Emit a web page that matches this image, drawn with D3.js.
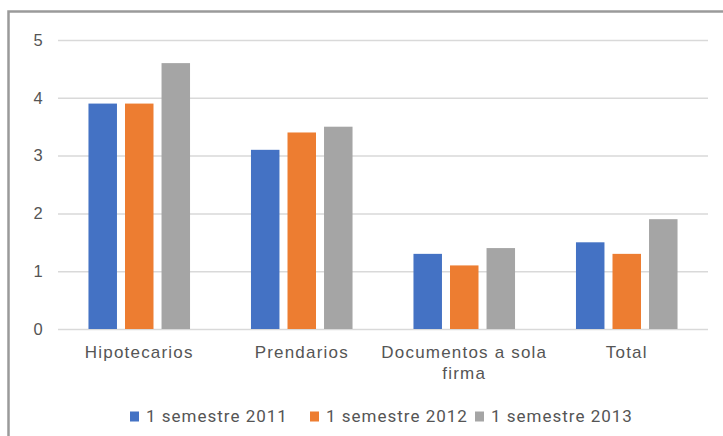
<!DOCTYPE html>
<html>
<head>
<meta charset="utf-8">
<script src="https://cdn.jsdelivr.net/npm/d3@7"></script>
<style>
  html, body { margin: 0; padding: 0; background: #fff; }
  svg { display: block; font-family: Roboto, "Noto Sans", sans-serif; }
</style>
</head>
<body>
<svg id="chart" width="723" height="436"></svg>
<script>
// Categories and series
const categories = ["Hipotecarios", "Prendarios", "Documentos a sola firma", "Total"];
const seriesNames = ["1 semestre 2011", "1 semestre 2012", "1 semestre 2013"];
const values2011 = [3.9, 3.1, 1.3, 1.5];
const values2012 = [3.9, 3.4, 1.1, 1.3];
const values2013 = [4.6, 3.5, 1.4, 1.9];
const yTicks = [0, 1, 2, 3, 4, 5];
const colors = ["#4472C4", "#ED7D31", "#A5A5A5"];

const seriesValues = [values2011, values2012, values2013];
const rows = categories.map((c, i) => ({
  category: c,
  values: seriesNames.map((s, j) => ({ series: s, value: seriesValues[j][i], idx: j }))
}));

const svg = d3.select("#chart");
const W = 723, H = 436;
const margin = { left: 58, right: 15, top: 40, bottom: 107 };
const plotW = W - margin.left - margin.right;
const plotH = H - margin.top - margin.bottom;
const textColor = "#555555";

// outer frame
svg.append("rect")
  .attr("x", 8.5).attr("y", 11.5)
  .attr("width", 740).attr("height", 460)
  .attr("fill", "none")
  .attr("stroke", "#9a9a9a")
  .attr("stroke-width", 2.5);

const g = svg.append("g").attr("transform", `translate(${margin.left},${margin.top})`);

const x0 = d3.scaleBand().domain(categories).range([0, plotW]).paddingInner(0).paddingOuter(0);
const x1 = d3.scaleBand().domain(seriesNames).range([0, x0.bandwidth() * 0.625]).paddingInner(0.22);
const groupOffset = (x0.bandwidth() - x0.bandwidth() * 0.625) / 2;
const y = d3.scaleLinear().domain([0, 5]).range([plotH, 0]);

// gridlines and value labels
const yAxis = d3.axisLeft(y).tickValues(yTicks).tickSize(-plotW).tickFormat(d3.format("d")).tickPadding(14);
const ya = g.append("g").call(yAxis);
ya.select(".domain").remove();
ya.selectAll(".tick line").attr("stroke", "#d9d9d9").attr("stroke-width", 1.5);
ya.selectAll(".tick text")
  .attr("fill", textColor)
  .style("font-size", "16.5px")
  .attr("text-anchor", "middle")
  .attr("dx", "-6");

// bars
const groups = g.selectAll(".grp").data(rows).join("g")
  .attr("class", "grp")
  .attr("transform", d => `translate(${x0(d.category) + groupOffset},0)`);
groups.selectAll("rect").data(d => d.values).join("rect")
  .attr("x", d => x1(d.series))
  .attr("width", x1.bandwidth())
  .attr("y", d => y(d.value))
  .attr("height", d => plotH - y(d.value))
  .attr("fill", d => colors[d.idx]);

// category labels
const xAxis = d3.axisBottom(x0).tickSize(0).tickPadding(17);
const xa = g.append("g").attr("transform", `translate(0,${plotH})`).call(xAxis);
xa.select(".domain").remove();
xa.selectAll(".tick text")
  .attr("fill", textColor)
  .style("font-size", "17px")
  .style("letter-spacing", "1.2px")
  .each(function(d) {
    const t = d3.select(this);
    if (d === "Documentos a sola firma") {
      t.text(null);
      t.append("tspan").attr("x", 0).attr("dy", "0.71em").text("Documentos a sola");
      t.append("tspan").attr("x", 0).attr("dy", "1.24em").text("firma");
      t.attr("dy", null);
    }
  });

// legend
const legend = svg.append("g").attr("transform", "translate(130,416)");
const legendX = [0, 180, 345];
seriesNames.forEach((s, i) => {
  const item = legend.append("g").attr("transform", `translate(${legendX[i]},0)`);
  item.append("rect").attr("x", 0).attr("y", -4.5).attr("width", 9).attr("height", 10).attr("fill", colors[i]);
  item.append("text").attr("x", 16).attr("y", 6)
    .attr("fill", textColor)
    .style("font-size", "17px")
    .style("letter-spacing", "1px")
    .text(s);
});
</script>
</body>
</html>
